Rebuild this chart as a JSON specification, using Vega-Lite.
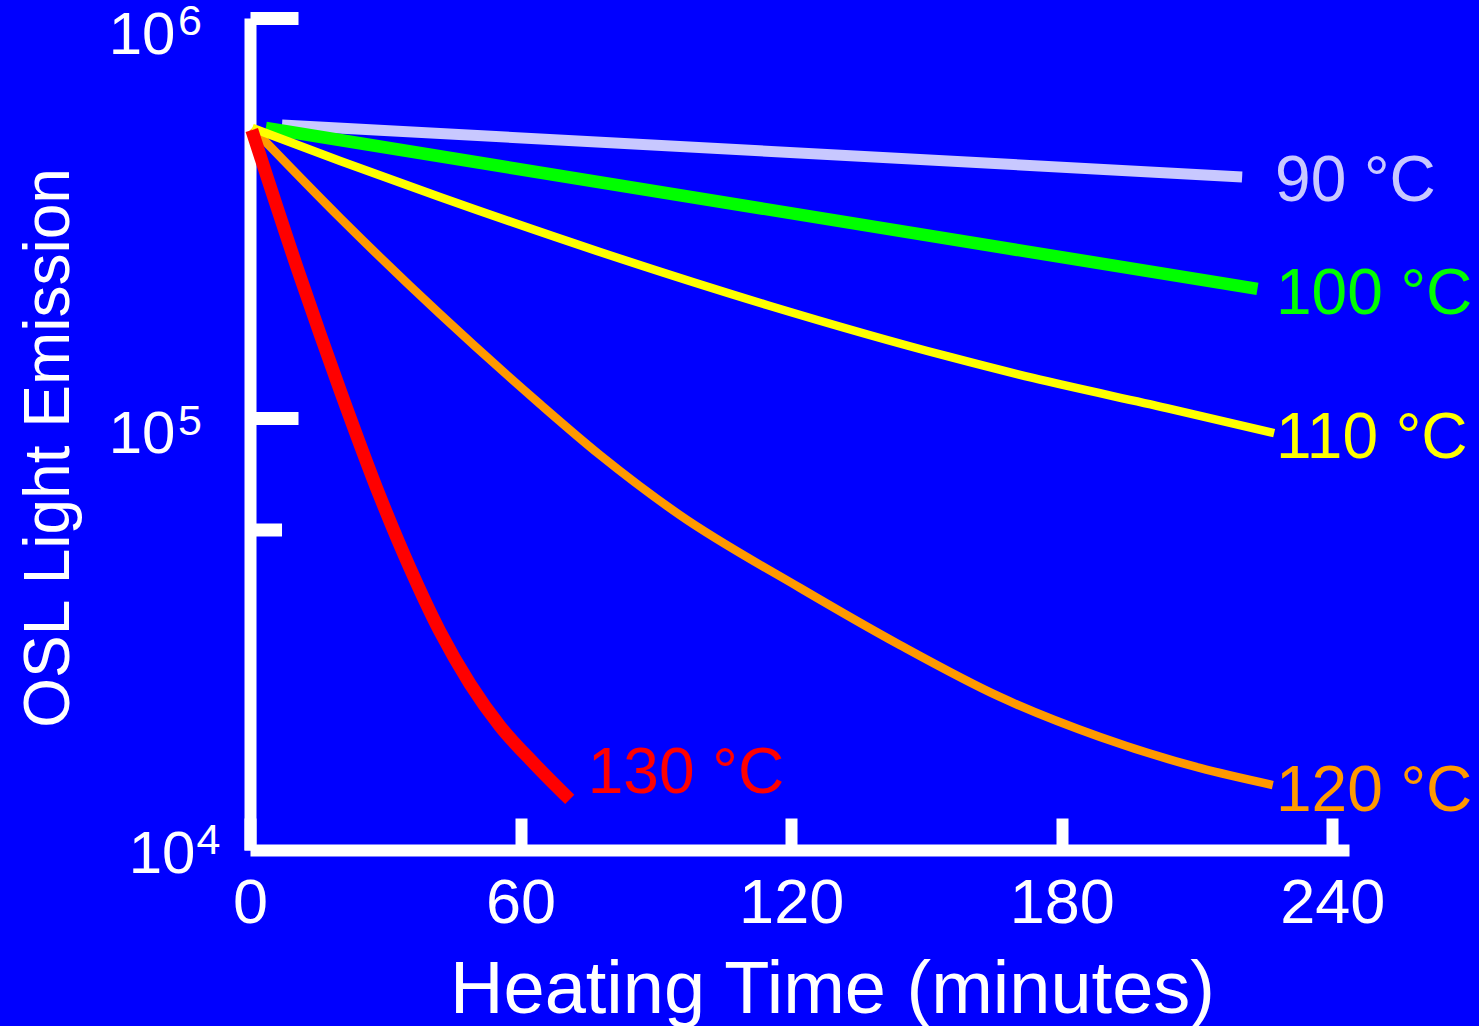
{
  "$schema": "https://vega.github.io/schema/vega-lite/v6.json",
  "width": 1099,
  "height": 832,
  "autosize": {"type": "none"},
  "padding": {"left": 250, "top": 18, "right": 130, "bottom": 176},
  "background": "#0000ff",
  "config": {"view": {"stroke": null}, "font": "Liberation Sans"},
  "datasets": {
    "curves": [
      {"series": "90 °C", "t": 7.1, "v": 540200},
      {"series": "90 °C", "t": 220, "v": 400500},
      {"series": "100 °C", "t": 3.5, "v": 530900},
      {"series": "100 °C", "t": 223.4, "v": 210200},
      {"series": "110 °C", "t": 0.5, "v": 530900},
      {"series": "110 °C", "t": 20.0, "v": 439000},
      {"series": "110 °C", "t": 42.1, "v": 356900},
      {"series": "110 °C", "t": 77.6, "v": 260000},
      {"series": "110 °C", "t": 114.6, "v": 191700},
      {"series": "110 °C", "t": 155.2, "v": 142100},
      {"series": "110 °C", "t": 173.6, "v": 125900},
      {"series": "110 °C", "t": 203.3, "v": 105900},
      {"series": "110 °C", "t": 227.1, "v": 91700},
      {"series": "120 °C", "t": 0.5, "v": 530900},
      {"series": "120 °C", "t": 20.0, "v": 316200},
      {"series": "120 °C", "t": 42.1, "v": 182000},
      {"series": "120 °C", "t": 64.3, "v": 108400},
      {"series": "120 °C", "t": 77.6, "v": 80810},
      {"series": "120 °C", "t": 95.3, "v": 57210},
      {"series": "120 °C", "t": 122.0, "v": 37580},
      {"series": "120 °C", "t": 144.1, "v": 27070},
      {"series": "120 °C", "t": 166.3, "v": 20070},
      {"series": "120 °C", "t": 188.5, "v": 15940},
      {"series": "120 °C", "t": 210.6, "v": 13340},
      {"series": "120 °C", "t": 226.8, "v": 12090},
      {"series": "130 °C", "t": 0.4, "v": 524800},
      {"series": "130 °C", "t": 11.1, "v": 225900},
      {"series": "130 °C", "t": 20.0, "v": 117200},
      {"series": "130 °C", "t": 28.8, "v": 63680},
      {"series": "130 °C", "t": 35.5, "v": 42070},
      {"series": "130 °C", "t": 42.1, "v": 29280},
      {"series": "130 °C", "t": 48.8, "v": 21640},
      {"series": "130 °C", "t": 55.4, "v": 16990},
      {"series": "130 °C", "t": 63.2, "v": 13610},
      {"series": "130 °C", "t": 70.9, "v": 11130}
    ],
    "labels": [
      {"series": "90 °C", "t": 227.3, "v": 388700},
      {"series": "100 °C", "t": 227.5, "v": 203200},
      {"series": "110 °C", "t": 227.5, "v": 88750},
      {"series": "120 °C", "t": 227.5, "v": 11640},
      {"series": "130 °C", "t": 74.9, "v": 12870}
    ],
    "ylabels": [
      {"v": 1000000, "exp": "6"},
      {"v": 100000, "exp": "5"},
      {"v": 10000, "exp": "4"}
    ],
    "minor": [{"v": 52500}]
  },
  "layer": [
    {
      "data": {"name": "curves"},
      "transform": [{"filter": "datum.series === '90 °C'"}],
      "mark": {"type": "line", "color": "#c8c8ff", "strokeWidth": 11, "interpolate": "monotone"},
      "encoding": {
        "x": {
          "field": "t", "type": "quantitative",
          "scale": {"domain": [0, 243.7], "nice": false, "zero": false},
          "axis": {
            "title": "Heating Time (minutes)",
            "values": [0, 60, 120, 180, 240],
            "grid": false,
            "labelFlush": false,
            "labelOverlap": false,
            "domainColor": "white",
            "domainWidth": 12,
            "tickColor": "white",
            "tickWidth": 12,
            "tickSize": -32,
            "labelColor": "white",
            "labelFont": "Liberation Sans",
            "labelFontSize": 63,
            "labelPadding": 54,
            "titleColor": "white",
            "titleFont": "Liberation Sans",
            "titleFontSize": 74,
            "titleFontWeight": "normal",
            "titleX": 582,
            "titleY": 162,
            "titleBaseline": "alphabetic",
            "titleAlign": "center"
          }
        },
        "y": {
          "field": "v", "type": "quantitative",
          "scale": {"type": "log", "domain": [8317.6, 1000000], "nice": false},
          "axis": {
            "title": "OSL Light Emission",
            "values": [1000000, 100000],
            "labels": false,
            "grid": false,
            "domainColor": "white",
            "domainWidth": 12,
            "tickColor": "white",
            "tickWidth": 13,
            "tickSize": -48,
            "titleColor": "white",
            "titleFont": "Liberation Sans",
            "titleFontSize": 64,
            "titleFontWeight": "normal",
            "titleX": -182,
            "titleY": 429.5,
            "titleAngle": 270,
            "titleBaseline": "alphabetic",
            "titleAlign": "center"
          }
        }
      }
    },
    {
      "data": {"name": "curves"},
      "transform": [{"filter": "datum.series === '100 °C'"}],
      "mark": {"type": "line", "color": "#00ff00", "strokeWidth": 12.5, "interpolate": "monotone"},
      "encoding": {
        "x": {"field": "t", "type": "quantitative"},
        "y": {"field": "v", "type": "quantitative"}
      }
    },
    {
      "data": {"name": "curves"},
      "transform": [{"filter": "datum.series === '120 °C'"}],
      "mark": {"type": "line", "color": "#ff9900", "strokeWidth": 8.5, "interpolate": "monotone"},
      "encoding": {
        "x": {"field": "t", "type": "quantitative"},
        "y": {"field": "v", "type": "quantitative"}
      }
    },
    {
      "data": {"name": "curves"},
      "transform": [{"filter": "datum.series === '110 °C'"}],
      "mark": {"type": "line", "color": "#ffff00", "strokeWidth": 8.5, "interpolate": "monotone"},
      "encoding": {
        "x": {"field": "t", "type": "quantitative"},
        "y": {"field": "v", "type": "quantitative"}
      }
    },
    {
      "data": {"name": "curves"},
      "transform": [{"filter": "datum.series === '130 °C'"}],
      "mark": {"type": "line", "color": "#ff0000", "strokeWidth": 13, "interpolate": "monotone"},
      "encoding": {
        "x": {"field": "t", "type": "quantitative"},
        "y": {"field": "v", "type": "quantitative"}
      }
    },
    {
      "data": {"name": "labels"},
      "mark": {"type": "text", "align": "left", "baseline": "middle", "fontSize": 64, "font": "Liberation Sans"},
      "encoding": {
        "x": {"field": "t", "type": "quantitative"},
        "y": {"field": "v", "type": "quantitative"},
        "text": {"field": "series"},
        "color": {
          "field": "series", "type": "nominal",
          "scale": {"domain": ["90 °C", "100 °C", "110 °C", "120 °C", "130 °C"], "range": ["#c8c8ff", "#00ff00", "#ffff00", "#ff9900", "#ff0000"]},
          "legend": null
        }
      }
    },
    {
      "data": {"name": "minor"},
      "mark": {"type": "rule", "color": "white", "strokeWidth": 13},
      "encoding": {
        "x": {"datum": 0, "type": "quantitative"},
        "x2": {"datum": 7.1},
        "y": {"field": "v", "type": "quantitative"}
      }
    },
    {
      "data": {"name": "ylabels"},
      "transform": [{"filter": "datum.v >= 100000"}],
      "mark": {"type": "text", "align": "right", "baseline": "alphabetic", "fontSize": 60, "font": "Liberation Sans", "color": "white", "dx": -74.5, "dy": 35.5},
      "encoding": {
        "x": {"datum": 0, "type": "quantitative"},
        "y": {"field": "v", "type": "quantitative"},
        "text": {"value": "10"}
      }
    },
    {
      "data": {"name": "ylabels"},
      "transform": [{"filter": "datum.v >= 100000"}],
      "mark": {"type": "text", "align": "left", "baseline": "alphabetic", "fontSize": 43, "font": "Liberation Sans", "color": "white", "dx": -72, "dy": 17},
      "encoding": {
        "x": {"datum": 0, "type": "quantitative"},
        "y": {"field": "v", "type": "quantitative"},
        "text": {"field": "exp"}
      }
    },
    {
      "data": {"name": "ylabels"},
      "transform": [{"filter": "datum.v == 10000"}],
      "mark": {"type": "text", "align": "right", "baseline": "alphabetic", "fontSize": 60, "font": "Liberation Sans", "color": "white", "dx": -54.5, "dy": 55},
      "encoding": {
        "x": {"datum": 0, "type": "quantitative"},
        "y": {"field": "v", "type": "quantitative"},
        "text": {"value": "10"}
      }
    },
    {
      "data": {"name": "ylabels"},
      "transform": [{"filter": "datum.v == 10000"}],
      "mark": {"type": "text", "align": "left", "baseline": "alphabetic", "fontSize": 43, "font": "Liberation Sans", "color": "white", "dx": -53.5, "dy": 36},
      "encoding": {
        "x": {"datum": 0, "type": "quantitative"},
        "y": {"field": "v", "type": "quantitative"},
        "text": {"field": "exp"}
      }
    }
  ]
}
